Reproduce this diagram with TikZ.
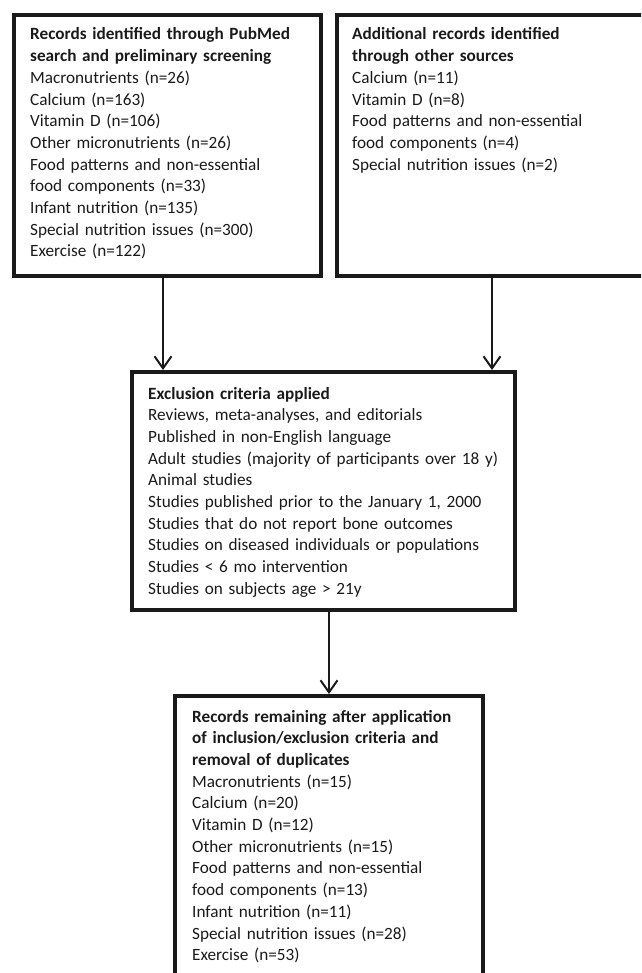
\documentclass[tikz,border=0pt]{standalone}
\usepackage{fontspec}
\setmainfont{Carlito}
\usetikzlibrary{arrows.meta}
\definecolor{ink}{RGB}{26,26,26}
\begin{document}
\begin{tikzpicture}[x=1pt,y=-1pt,
  box/.style={draw=ink, line width=4pt, rectangle, anchor=north west, inner sep=0pt, outer sep=2pt},
  txt/.style={anchor=base west, inner sep=0pt, align=left, text width=450pt, text=ink, font=\fontsize{17.2}{21.7}\selectfont},
  conn/.style={draw=ink, line width=2pt, -{Straight Barb[length=12pt,width=17pt,line width=2pt]}}]
\useasboundingbox (0,0) rectangle (641,973);
\clip (0,0) rectangle (641,973);
% boxes
\node[box, minimum width=307pt, minimum height=261pt] (box1) at (12,13) {};
\node[box, minimum width=310pt, minimum height=261pt] (box2) at (335,13) {};
\node[box, minimum width=383pt, minimum height=238pt] (box3) at (130,370) {};
\node[box, minimum width=308pt, minimum height=304pt] (box4) at (173,694) {};
% texts
\node[txt] (t1) at (30,40) {\textbf{Records identified through PubMed}\\
\textbf{search and preliminary screening}\\
Macronutrients (n=26)\\
Calcium (n=163)\\
Vitamin D (n=106)\\
Other micronutrients (n=26)\\
Food patterns and non-essential\\
food components (n=33)\\
Infant nutrition (n=135)\\
Special nutrition issues (n=300)\\
Exercise (n=122)};
\node[txt] (t2) at (352,40) {\textbf{Additional records identified}\\
\textbf{through other sources}\\
Calcium (n=11)\\
Vitamin D (n=8)\\
Food patterns and non-essential\\
food components (n=4)\\
Special nutrition issues (n=2)};
\node[txt] (t3) at (148,399) {\textbf{Exclusion criteria applied}\\
Reviews, meta-analyses, and editorials\\
Published in non-English language\\
Adult studies (majority of participants over 18 y)\\
Animal studies\\
Studies published prior to the January 1, 2000\\
Studies that do not report bone outcomes\\
Studies on diseased individuals or populations\\
Studies < 6 mo intervention\\
Studies on subjects age > 21y};
\node[txt] (t4) at (192,722) {\textbf{Records remaining after application}\\
\textbf{of inclusion/exclusion criteria and}\\
\textbf{removal of duplicates}\\
Macronutrients (n=15)\\
Calcium (n=20)\\
Vitamin D (n=12)\\
Other micronutrients (n=15)\\
Food patterns and non-essential\\
food components (n=13)\\
Infant nutrition (n=11)\\
Special nutrition issues (n=28)\\
Exercise (n=53)};
% connectors
\coordinate (a1) at (163,0);
\draw[conn] (box1.south -| a1) -- (box3.north -| a1);
\draw[conn] (box2.south) -- (box3.north -| box2.south);
\draw[conn] (box3.south -| box4.north) -- (box4.north);
\end{tikzpicture}
\end{document}
